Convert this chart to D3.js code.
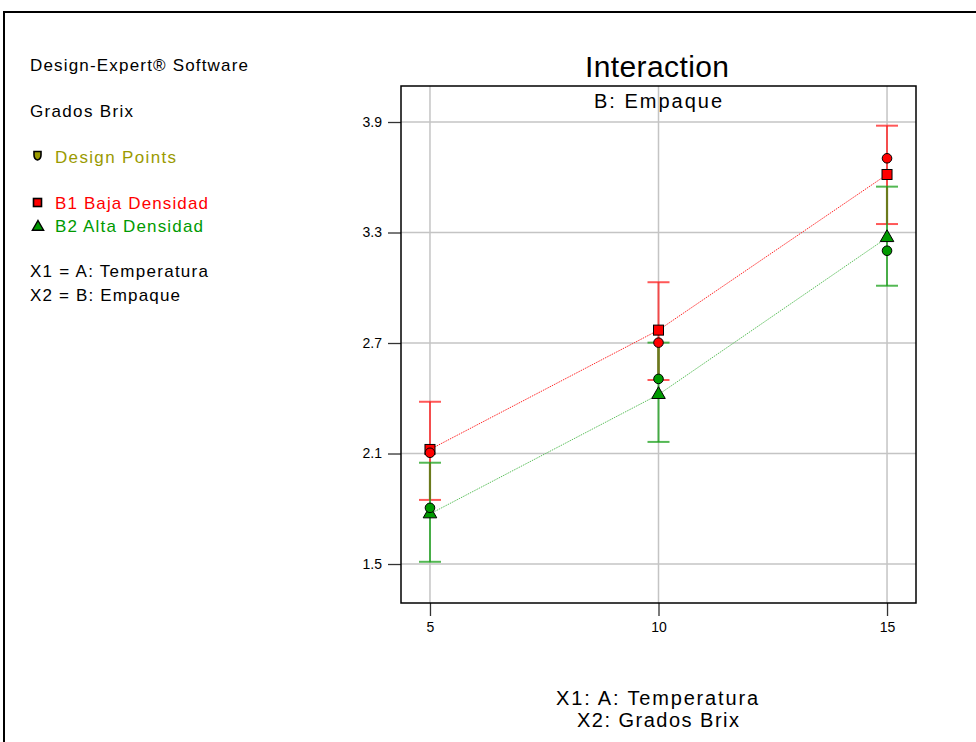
<!DOCTYPE html>
<html>
<head>
<meta charset="utf-8">
<script src="https://cdn.jsdelivr.net/npm/d3@7"></script>
<style>
  html, body { margin: 0; padding: 0; background: #fff; }
  svg { display: block; font-family: "Liberation Sans", Arial, sans-serif; }
</style>
</head>
<body>
<svg id="chart" width="976" height="742"></svg>
<script>
// Factor A: temperature levels
const temperatura = [5, 10, 15];
const yTicks = [1.5, 2.1, 2.7, 3.3, 3.9];

// B1 Baja Densidad: predicted mean with LSD bar limits, and design points
const b1Mean = [2.122, 2.77, 3.615];
const b1Low  = [1.848, 2.499, 3.346];
const b1High = [2.381, 3.030, 3.880];
const b1Points = [2.104, 2.702, 3.703];

// B2 Alta Densidad
const b2Mean = [1.772, 2.42, 3.272];
const b2Low  = [1.512, 2.163, 3.011];
const b2High = [2.050, 2.702, 3.549];
const b2Points = [1.805, 2.505, 3.201];

const RED = "#ff0000", GREEN = "#009a00", OLIVE = "#9a9a00";

const svg = d3.select("#chart");
const plot = { left: 401, right: 916, top: 86, bottom: 603 };

const x = d3.scaleLinear().domain([4.366, 15.634]).range([plot.left, plot.right]);
const y = d3.scaleLinear().domain([1.2883, 4.0955]).range([plot.bottom, plot.top]);

// outer frame
svg.append("rect").attr("x", 4).attr("y", 12).attr("width", 990).attr("height", 760)
  .attr("fill", "none").attr("stroke", "#000").attr("stroke-width", 2);

// text helper with fitted width
function label(txt, tx, ty, size, fill, width, anchor) {
  const t = svg.append("text").attr("x", tx).attr("y", ty)
    .attr("font-size", size).attr("fill", fill || "#000")
    .attr("text-anchor", anchor || "start").text(txt);
  if (width) t.attr("textLength", width).attr("lengthAdjust", "spacing");
  return t;
}

// legend block
label("Design-Expert\u00AE Software", 30, 71, 17, "#000", 218);
label("Grados Brix", 30, 117, 17, "#000", 103);
label("Design Points", 55, 163, 17, OLIVE, 121);
label("B1 Baja Densidad", 55, 209, 17, RED, 153);
label("B2 Alta Densidad", 55, 232, 17, GREEN, 148);
label("X1 = A: Temperatura", 30, 277, 17, "#000", 178);
label("X2 = B: Empaque", 30, 301, 17, "#000", 150);

// legend symbols
svg.append("path").attr("d", "M34,151.5 H41 V155 Q41,159 37.5,160 Q34,159 34,155 Z")
  .attr("fill", OLIVE).attr("stroke", "#000").attr("stroke-width", 1.6);
svg.append("rect").attr("x", 33.5).attr("y", 198.5).attr("width", 8).attr("height", 8)
  .attr("fill", RED).attr("stroke", "#000").attr("stroke-width", 1.6);
svg.append("path").attr("d", d3.symbol(d3.symbolTriangle, 55)())
  .attr("transform", "translate(38,227)")
  .attr("fill", GREEN).attr("stroke", "#000").attr("stroke-width", 1.4);

// titles
label("Interaction", 657, 77, 30, "#000", 144, "middle");
label("B: Empaque", 658, 108, 20, "#000", 128, "middle");

// grid
const g = svg.append("g");
g.selectAll(".gy").data(yTicks).join("line")
  .attr("x1", plot.left).attr("x2", plot.right)
  .attr("y1", d => y(d)).attr("y2", d => y(d))
  .attr("stroke", "#c4c4c4").attr("stroke-width", 1.5);
g.selectAll(".gx").data(temperatura).join("line")
  .attr("y1", plot.top).attr("y2", plot.bottom)
  .attr("x1", d => x(d)).attr("x2", d => x(d))
  .attr("stroke", "#c4c4c4").attr("stroke-width", 1.5);

// axes
const yAxis = d3.axisLeft(y).tickValues(yTicks).tickFormat(d3.format(".1f")).tickSizeOuter(0).tickSize(13).tickPadding(6);
const xAxis = d3.axisBottom(x).tickValues(temperatura).tickFormat(d3.format("d")).tickSizeOuter(0).tickSize(13).tickPadding(6);
const ya = svg.append("g").attr("transform", `translate(${plot.left},0)`).call(yAxis);
const xa = svg.append("g").attr("transform", `translate(0,${plot.bottom})`).call(xAxis);
[ya, xa].forEach(a => {
  a.select(".domain").remove();
  a.selectAll(".tick line").attr("stroke", "#333").attr("stroke-width", 1.3);
  a.selectAll(".tick text").attr("font-size", 14).attr("fill", "#000")
    .attr("font-family", "'Liberation Sans', Arial, sans-serif");
});

// plot frame
svg.append("rect").attr("x", plot.left).attr("y", plot.top)
  .attr("width", plot.right - plot.left).attr("height", plot.bottom - plot.top)
  .attr("fill", "none").attr("stroke", "#000").attr("stroke-width", 1.5);

// LSD bars
function bars(low, high, color) {
  const gb = svg.append("g");
  temperatura.forEach((t, i) => {
    gb.append("line").attr("x1", x(t)).attr("x2", x(t))
      .attr("y1", y(low[i])).attr("y2", y(high[i]))
      .attr("stroke", color).attr("stroke-width", 2).attr("stroke-opacity", 0.75);
    [low[i], high[i]].forEach(v => {
      gb.append("line").attr("x1", x(t) - 11).attr("x2", x(t) + 11)
        .attr("y1", y(v)).attr("y2", y(v))
        .attr("stroke", color).attr("stroke-width", 2).attr("stroke-opacity", 0.75);
    });
  });
}
bars(b1Low, b1High, "#ff2020");
bars(b2Low, b2High, "#1aa01a");

// overlapping part of the two bars
temperatura.forEach((t, i) => {
  const lo = Math.max(b1Low[i], b2Low[i]), hi = Math.min(b1High[i], b2High[i]);
  if (hi > lo) {
    svg.append("line").attr("x1", x(t)).attr("x2", x(t))
      .attr("y1", y(lo) - 1).attr("y2", y(hi) + 1)
      .attr("stroke", "#6b7a1c").attr("stroke-width", 2.2);
  }
});

// interaction lines
const line = d3.line().x((d, i) => x(temperatura[i])).y(d => y(d));
svg.append("path").datum(b1Mean).attr("d", line).attr("fill", "none")
  .attr("stroke", "#ff2a2a").attr("stroke-width", 1).attr("stroke-dasharray", "1.5,1");
svg.append("path").datum(b2Mean).attr("d", line).attr("fill", "none")
  .attr("stroke", "#5cc05c").attr("stroke-width", 1).attr("stroke-dasharray", "1.5,1");

// mean symbols
svg.selectAll(".sq").data(b1Mean).join("rect")
  .attr("x", (d, i) => x(temperatura[i]) - 5).attr("y", d => y(d) - 5)
  .attr("width", 10).attr("height", 10)
  .attr("fill", RED).attr("stroke", "#000").attr("stroke-width", 1);
svg.selectAll(".tri").data(b2Mean).join("path")
  .attr("d", d3.symbol(d3.symbolTriangle, 80)())
  .attr("transform", (d, i) => `translate(${x(temperatura[i])},${y(d)})`)
  .attr("fill", GREEN).attr("stroke", "#000").attr("stroke-width", 1);

// design points
svg.selectAll(".p1").data(b1Points).join("circle")
  .attr("cx", (d, i) => x(temperatura[i])).attr("cy", d => y(d)).attr("r", 4.8)
  .attr("fill", RED).attr("stroke", "#000").attr("stroke-width", 1);
svg.selectAll(".p2").data(b2Points).join("circle")
  .attr("cx", (d, i) => x(temperatura[i])).attr("cy", d => y(d)).attr("r", 4.8)
  .attr("fill", GREEN).attr("stroke", "#000").attr("stroke-width", 1);

// axis titles
label("X1: A: Temperatura", 657, 705, 20, "#000", 202, "middle");
label("X2: Grados Brix", 658, 727, 20, "#000", 162, "middle");
</script>
</body>
</html>
